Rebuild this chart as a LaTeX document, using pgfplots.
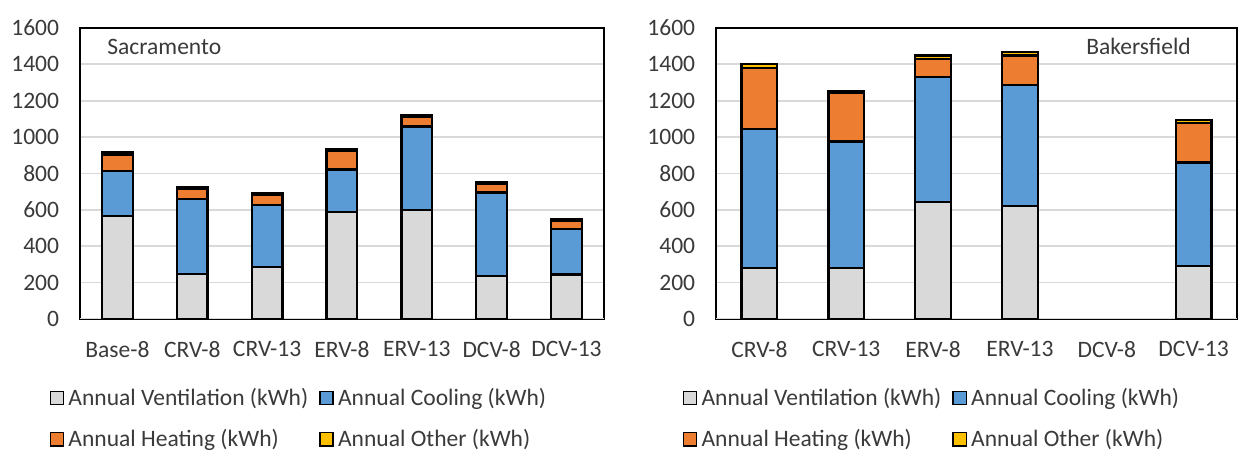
\documentclass[border=0pt]{standalone}
\usepackage{fontspec}
\setmainfont{Carlito}
\usepackage{pgfplots}
\pgfplotsset{compat=1.18}
\definecolor{vent}{HTML}{D9D9D9}
\definecolor{cool}{HTML}{5B9BD5}
\definecolor{heat}{HTML}{ED7D31}
\definecolor{other}{HTML}{FFC000}
\definecolor{gridc}{HTML}{D9D9D9}
\definecolor{txt}{HTML}{3A3A3A}

\pgfplotsset{
 sq/.style={legend image code/.code={\draw[##1,line width=0.7pt] (0pt,-3.2pt) rectangle (6.4pt,3.2pt);}},
 energy/.style={
  scale only axis, width=251.5pt, height=139.7pt, anchor=south west,
  ybar stacked, bar width=0.41,
  ymin=0, ymax=1600, ytick={0,200,...,1600},
  ymajorgrids, grid style={gridc, line width=0.8pt},
  major tick length=0pt,
  axis line style={black, line width=0.8pt},
  font=\fontsize{11.3}{13.5}\selectfont,
  tick label style={text=txt},
  /pgf/number format/assume math mode=true,
  /pgf/number format/1000 sep={},
  yticklabel style={xshift=-6.5pt},
  xticklabel style={yshift=-7pt},
  every axis plot post/.append style={sq, draw=black, line width=1.1pt},
  legend columns=2,
  legend cell align=left,
  legend style={draw=none, fill=none, inner sep=0pt, text=txt,
   font=\fontsize{11.3}{13.5}\selectfont, row sep=6pt, anchor=north west,
   /tikz/every even column/.append style={column sep=3.2pt}},
 }
}

\begin{document}
\begin{tikzpicture}
\path (0,0) rectangle (595.68pt,221.76pt);

% Sacramento
\begin{axis}[energy, at={(38.4pt,68.64pt)},
 xmin=-0.5, xmax=6.5, xtick={0,...,6},
 xticklabels={Base-8,CRV-8,CRV-13,ERV-8,ERV-13,DCV-8,DCV-13},
 legend style={at={(-0.059,-0.221)}}]
\addplot[fill=vent] coordinates {(0,565) (1,248) (2,285) (3,590) (4,600) (5,235) (6,245)};
\addplot[fill=cool] coordinates {(0,248) (1,413) (2,342) (3,232) (4,459) (5,460) (6,250)};
\addplot[fill=heat] coordinates {(0,91) (1,55) (2,56) (3,100) (4,51) (5,48) (6,45)};
\addplot[fill=other] coordinates {(0,11) (1,7) (2,11) (3,11) (4,11) (5,8) (6,10)};
\legend{Annual Ventilation (kWh),Annual Cooling (kWh),Annual Heating (kWh),Annual Other (kWh)}
\draw[gridc, line width=0.8pt] (rel axis cs:0,0) -- (rel axis cs:1,0);
\node[anchor=west, inner sep=0pt, text=txt] at (rel axis cs:0.0515,0.935) {Sacramento};
\end{axis}

% Bakersfield
\begin{axis}[energy, at={(343.68pt,68.64pt)}, width=250.1pt,
 xmin=-0.5, xmax=5.5, xtick={0,...,5},
 xticklabels={CRV-8,CRV-13,ERV-8,ERV-13,DCV-8,DCV-13},
 legend style={at={(-0.065,-0.221)}}]
\addplot[fill=vent] coordinates {(0,280) (1,280) (2,645) (3,620) (5,293)};
\addplot[fill=cool] coordinates {(0,765) (1,695) (2,687) (3,668) (5,567)};
\addplot[fill=heat] coordinates {(0,333) (1,266) (2,98) (3,161) (5,219)};
\addplot[fill=other] coordinates {(0,22) (1,13) (2,19) (3,20) (5,16)};
\legend{Annual Ventilation (kWh),Annual Cooling (kWh),Annual Heating (kWh),Annual Other (kWh)}
\draw[gridc, line width=0.8pt] (rel axis cs:0,0) -- (rel axis cs:1,0);
\node[anchor=east, inner sep=0pt, text=txt] at (rel axis cs:0.912,0.935) {Bakersfield};
\end{axis}
\end{tikzpicture}
\end{document}
